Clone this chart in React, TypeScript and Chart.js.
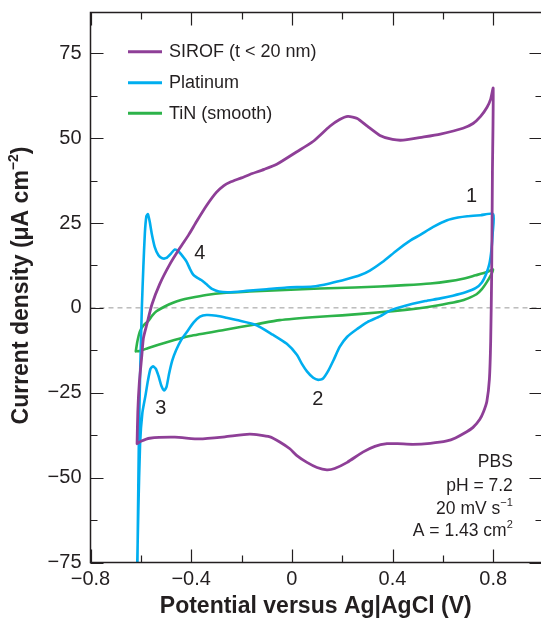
import React, { useEffect, useRef } from "react";
import { Chart, registerables } from "chart.js";

Chart.register(...registerables);

const FONT = "'Liberation Sans', Arial, Helvetica, sans-serif";
const INK = "#231F20";

// ---- data ----
const seriesLabels = ["SIROF (t < 20 nm)", "Platinum", "TiN (smooth)"];
const seriesColors = ["#8E3F97", "#00AEEF", "#2DB34A"];

const sirofX = [-0.615, -0.612, -0.606, -0.596, -0.59, -0.576, -0.556, -0.525, -0.485, -0.445, -0.41, -0.378, -0.34, -0.3, -0.27, -0.246, -0.2, -0.167, -0.11, -0.06, 0.02, 0.084, 0.151, 0.19, 0.223, 0.26, 0.3, 0.35, 0.4, 0.442, 0.52, 0.59, 0.68, 0.72, 0.75, 0.775, 0.79, 0.8, 0.797, 0.794, 0.79, 0.785, 0.775, 0.762, 0.747, 0.72, 0.695, 0.65, 0.616, 0.55, 0.481, 0.42, 0.378, 0.33, 0.282, 0.22, 0.17, 0.139, 0.1, 0.06, 0.02, -0.008, -0.048, -0.087, -0.167, -0.266, -0.366, -0.465, -0.565, -0.6, -0.615];
const sirofY = [-40, -30.5, -22, -14, -9, -4.8, 1, 7, 12.8, 17.6, 21.5, 25.5, 30, 34, 36, 37, 38.3, 39.3, 40.8, 42.3, 46, 49, 53.5, 55.5, 56.4, 55.8, 53.5, 50.8, 49.6, 49.4, 50.3, 51.2, 52.9, 54.3, 56.4, 59, 61.5, 64.7, 40, 10, -10, -21, -27.5, -30.5, -32.8, -35.2, -36.5, -38.3, -39.2, -39.9, -40.2, -40, -40, -40.8, -42.5, -45.5, -47.3, -47.7, -47, -45.5, -43.5, -41.5, -39.5, -38, -37.2, -38, -38.6, -38.1, -38.4, -39.3, -40];

const platX = [-0.614, -0.608, -0.603, -0.596, -0.59, -0.584, -0.578, -0.572, -0.565, -0.557, -0.545, -0.53, -0.515, -0.498, -0.48, -0.465, -0.45, -0.435, -0.419, -0.405, -0.392, -0.378, -0.36, -0.34, -0.315, -0.29, -0.25, -0.18, -0.1, -0.02, 0.084, 0.15, 0.22, 0.27, 0.31, 0.36, 0.418, 0.47, 0.51, 0.56, 0.617, 0.66, 0.697, 0.75, 0.8, 0.798, 0.793, 0.785, 0.772, 0.755, 0.73, 0.69, 0.64, 0.59, 0.53, 0.48, 0.43, 0.39, 0.35, 0.3, 0.26, 0.22, 0.19, 0.165, 0.145, 0.124, 0.105, 0.085, 0.06, 0.04, 0.02, -0.02, -0.076, -0.14, -0.219, -0.26, -0.299, -0.339, -0.365, -0.39, -0.418, -0.44, -0.46, -0.475, -0.488, -0.498, -0.507, -0.518, -0.53, -0.54, -0.552, -0.562, -0.572, -0.582, -0.594, -0.603, -0.61, -0.615];
const platY = [-78, -40, -20, 0, 12, 22, 27, 27.6, 25.5, 22, 18, 15.5, 14.6, 14.7, 16, 17.2, 16.6, 15.3, 13.7, 11.5, 9.8, 9, 8.2, 7, 5.5, 4.8, 4.6, 5, 5.5, 6, 6.3, 7.2, 8.5, 9.6, 11, 13.5, 17, 19.8, 21.5, 23.8, 25.8, 26.6, 27, 27.3, 27.6, 22, 17, 13, 10, 7.5, 5.8, 4.6, 3.6, 2.8, 2, 1.2, 0.2, -0.8, -2.5, -4.2, -6.2, -8.5, -11.5, -15.5, -18.5, -20.8, -21.2, -20.6, -18.7, -16.5, -13.8, -10.6, -7.9, -5.1, -3.6, -2.9, -2.3, -2.1, -2.6, -4.3, -7.2, -9.5, -12.5, -15.5, -19.5, -23.3, -24.3, -23, -20, -18, -17.2, -18, -21.5, -26, -31, -40, -60, -78];

const tinX = [-0.62, -0.614, -0.604, -0.59, -0.571, -0.555, -0.538, -0.505, -0.472, -0.44, -0.405, -0.34, -0.273, -0.17, -0.074, 0.111, 0.25, 0.35, 0.45, 0.55, 0.62, 0.68, 0.73, 0.77, 0.8, 0.79, 0.774, 0.755, 0.734, 0.7, 0.668, 0.6, 0.535, 0.45, 0.35, 0.2, 0.111, -0.048, -0.14, -0.27, -0.405, -0.5, -0.57, -0.604, -0.62];
const tinY = [-12.8, -10, -7, -5.2, -3.9, -2.3, -1, 0.4, 1.5, 2.3, 2.9, 3.8, 4.4, 4.8, 5.1, 5.7, 6, 6.3, 6.7, 7.2, 7.8, 8.6, 9.6, 10.4, 11.3, 9.5, 7.5, 5.5, 4, 2.8, 2, 1, 0.2, -0.6, -1.3, -2.2, -2.6, -3.6, -4.8, -6.5, -8.3, -10.2, -11.8, -12.7, -12.8];

const xMajor = [-0.8, -0.4, 0, 0.4, 0.8];
const xMinor = [-0.6, -0.2, 0.2, 0.6];
const yMajor = [-75, -50, -25, 0, 25, 50, 75];
const yMinor = [-62.5, -37.5, -12.5, 12.5, 37.5, 62.5];

const peakLabels = ["1", "2", "3", "4"];
const peakX = [0.714, 0.103, -0.521, -0.366];
const peakY = [32.9, -26.9, -29.5, 16.1];

const xTitle = "Potential versus Ag|AgCl (V)";

type Part = { t: string; sup?: boolean };
const yTitleParts: Part[] = [{ t: "Current density (μA cm" }, { t: "−2", sup: true }, { t: ")" }];
const infoLines: Part[][] = [
  [{ t: "PBS" }],
  [{ t: "pH = 7.2" }],
  [{ t: "20 mV s" }, { t: "−1", sup: true }],
  [{ t: "A = 1.43 cm" }, { t: "2", sup: true }],
];
const infoX = 0.878;
const infoY = [-45.4, -52.5, -59.3, -65.8];

const fmt = (v: number) => {
  const s = Math.abs(v) < 1e-9 ? "0" : String(Math.round(v * 100) / 100);
  return s.replace("-", "−");
};

function richWidth(ctx: CanvasRenderingContext2D, parts: Part[], size: number, bold: boolean) {
  let w = 0;
  for (const p of parts) {
    const s = p.sup ? Math.round(size * 0.62) : size;
    ctx.font = `${bold ? "bold " : ""}${s}px ${FONT}`;
    w += ctx.measureText(p.t).width;
  }
  return w;
}

function drawRich(
  ctx: CanvasRenderingContext2D,
  parts: Part[],
  x: number,
  y: number,
  align: "left" | "right" | "center",
  size: number,
  bold: boolean
) {
  const w = richWidth(ctx, parts, size, bold);
  let cx = align === "left" ? x : align === "right" ? x - w : x - w / 2;
  ctx.textAlign = "left";
  ctx.textBaseline = "middle";
  for (const p of parts) {
    const s = p.sup ? Math.round(size * 0.62) : size;
    ctx.font = `${bold ? "bold " : ""}${s}px ${FONT}`;
    ctx.fillText(p.t, cx, p.sup ? y - size * 0.36 : y);
    cx += ctx.measureText(p.t).width;
  }
}

const decorPlugin = {
  id: "decor",
  beforeDatasetsDraw(chart: any) {
    const { ctx, chartArea, scales } = chart;
    const y0 = scales.y.getPixelForValue(0);
    ctx.save();
    ctx.strokeStyle = "#9a9a9a";
    ctx.lineWidth = 1;
    ctx.setLineDash([5, 4]);
    ctx.beginPath();
    ctx.moveTo(chartArea.left, y0);
    ctx.lineTo(chartArea.right, y0);
    ctx.stroke();
    ctx.restore();
  },
  afterDraw(chart: any) {
    const { ctx, chartArea, scales } = chart;
    const { left, right, top, bottom } = chartArea;
    const xs = scales.x;
    const ys = scales.y;
    const rightEdge = right + 1.5;
    ctx.save();
    ctx.strokeStyle = INK;
    ctx.fillStyle = INK;
    // frame
    ctx.lineWidth = 1.5;
    ctx.beginPath();
    ctx.moveTo(right + 2, top);
    ctx.lineTo(left, top);
    ctx.lineTo(left, bottom);
    ctx.lineTo(right + 2, bottom);
    ctx.stroke();
    // ticks
    ctx.lineWidth = 1.2;
    const major = 13;
    const minor = 7;
    ctx.beginPath();
    const xt = (vals: number[], len: number) => {
      for (const v of vals) {
        const px = Math.round(xs.getPixelForValue(v)) + 0.5;
        ctx.moveTo(px, bottom);
        ctx.lineTo(px, bottom - len);
        ctx.moveTo(px, top);
        ctx.lineTo(px, top + len);
      }
    };
    const yt = (vals: number[], len: number) => {
      for (const v of vals) {
        const py = Math.round(ys.getPixelForValue(v)) + 0.5;
        ctx.moveTo(left, py);
        ctx.lineTo(left + len, py);
        ctx.moveTo(rightEdge, py);
        ctx.lineTo(rightEdge - len, py);
      }
    };
    xt(xMajor, major);
    xt(xMinor, minor);
    yt(yMajor, major);
    yt(yMinor, minor);
    ctx.stroke();

    // legend
    const legY = [top + 39.2, top + 70.2, top + 100.8];
    seriesLabels.forEach((lab, i) => {
      ctx.strokeStyle = seriesColors[i];
      ctx.lineWidth = 3;
      ctx.beginPath();
      ctx.moveTo(left + 37.5, legY[i]);
      ctx.lineTo(left + 71.5, legY[i]);
      ctx.stroke();
      ctx.fillStyle = INK;
      ctx.font = `18px ${FONT}`;
      ctx.textAlign = "left";
      ctx.textBaseline = "middle";
      ctx.fillText(lab, left + 78.5, legY[i] + 0.5);
    });

    // peak labels
    ctx.fillStyle = INK;
    ctx.font = `20px ${FONT}`;
    ctx.textAlign = "center";
    ctx.textBaseline = "middle";
    peakLabels.forEach((t, i) => {
      ctx.fillText(t, xs.getPixelForValue(peakX[i]), ys.getPixelForValue(peakY[i]));
    });

    // info box
    infoLines.forEach((parts, i) => {
      drawRich(ctx, parts, xs.getPixelForValue(infoX), ys.getPixelForValue(infoY[i]), "right", 17.5, false);
    });

    // x title
    ctx.font = `bold 23px ${FONT}`;
    ctx.textAlign = "center";
    ctx.textBaseline = "middle";
    ctx.fillText(xTitle, (left + right) / 2, 607);

    // y title
    ctx.save();
    ctx.translate(22, (top + bottom) / 2 - 2);
    ctx.rotate(-Math.PI / 2);
    drawRich(ctx, yTitleParts, 0, 0, "center", 23, true);
    ctx.restore();

    ctx.restore();
  },
};

export default function App() {
  const ref = useRef<HTMLCanvasElement | null>(null);
  useEffect(() => {
    document.body.style.margin = "0";
    const canvas = ref.current;
    if (!canvas) return;
    const mk = (xa: number[], ya: number[]) => xa.map((x, i) => ({ x, y: ya[i] }));
    const seriesData = [mk(sirofX, sirofY), mk(platX, platY), mk(tinX, tinY)];
    const chart = new Chart(canvas, {
      type: "line",
      data: {
        datasets: seriesLabels.map((label, i) => ({
          label,
          data: seriesData[i],
          borderColor: seriesColors[i],
          backgroundColor: seriesColors[i],
          borderWidth: i === 0 ? 2.8 : 2.6,
          pointRadius: 0,
          tension: 0.2,
          fill: false,
          borderJoinStyle: "round" as const,
          borderCapStyle: "round" as const,
        })),
      },
      options: {
        responsive: false,
        animation: false,
        devicePixelRatio: 1,
        layout: { padding: { top: 12.5, right: 0, left: 0, bottom: 0 } },
        plugins: { legend: { display: false }, tooltip: { enabled: false } },
        scales: {
          x: {
            type: "linear",
            min: -0.8,
            max: 0.99,
            grid: { display: false, drawTicks: false },
            border: { display: false },
            afterBuildTicks: (s: any) => {
              s.ticks = xMajor.map((v) => ({ value: v }));
            },
            afterFit: (s: any) => {
              s.height = 57.5;
              s.paddingLeft = 0;
              s.paddingRight = 0;
            },
            ticks: {
              padding: 5,
              color: INK,
              font: { family: FONT, size: 20 },
              maxRotation: 0,
              callback: (v: any) => fmt(Number(v)),
            },
          },
          y: {
            type: "linear",
            min: -75,
            max: 87,
            grid: { display: false, drawTicks: false },
            border: { display: false },
            afterBuildTicks: (s: any) => {
              s.ticks = yMajor.map((v) => ({ value: v }));
            },
            afterFit: (s: any) => {
              s.width = 90.5;
              s.paddingTop = 0;
              s.paddingBottom = 0;
            },
            ticks: {
              padding: 9,
              color: INK,
              font: { family: FONT, size: 20 },
              callback: (v: any) => fmt(Number(v)),
            },
          },
        },
      },
      plugins: [decorPlugin],
    });
    return () => chart.destroy();
  }, []);
  return <canvas ref={ref} width={541} height={620} style={{ display: "block" }} />;
}
